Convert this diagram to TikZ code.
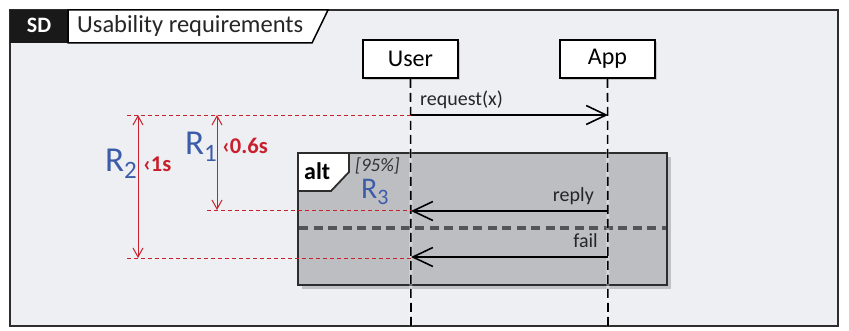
\documentclass[tikz,border=0pt]{standalone}
\usepackage{fontspec}
\setmainfont{Carlito}
\usetikzlibrary{arrows.meta,shadows}
\definecolor{bgc}{RGB}{237,239,243}
\definecolor{framec}{RGB}{45,45,45}
\definecolor{altc}{RGB}{189,190,194}
\definecolor{rblue}{RGB}{60,92,170}
\definecolor{rred}{RGB}{200,32,45}
\definecolor{sepc}{RGB}{85,85,88}
\tikzset{
  lbox/.style={draw=black, line width=1.6pt, fill=white, minimum width=95pt, minimum height=38pt,
    inner sep=0pt, font=\fontsize{24}{26}\selectfont,
    drop shadow={shadow xshift=2pt, shadow yshift=-2pt, opacity=0.35}},
  lifeline/.style={black, line width=1.6pt, dash pattern=on 9pt off 5pt},
  lifeglow/.style={white, opacity=0.35, line width=3pt},
  msg/.style={black, line width=1.6pt, -{Straight Barb[length=20pt,width=19pt,line width=1.6pt]}},
  msglabel/.style={font=\fontsize{20}{22}\selectfont, text=black!85, inner sep=0pt},
  reddash/.style={rred, line width=0.9pt, dash pattern=on 4pt off 3pt},
  dimarrow/.style={rred, line width=1pt, {Straight Barb[length=9pt,width=10pt,line width=1pt]}-{Straight Barb[length=9pt,width=10pt,line width=1pt]}},
  rlabel/.style={text=rblue, font=\fontsize{35}{36}\selectfont, inner sep=0pt, anchor=base west},
  tlabel/.style={text=rred, font=\bfseries\fontsize{22.5}{24}\selectfont, inner sep=0pt, anchor=base west},
}
\newcommand{\Rsub}[1]{R{\fontsize{25}{25}\selectfont\raisebox{-7pt}{#1}}}
\newcommand{\Rsubsmall}[1]{R{\fontsize{22}{22}\selectfont\raisebox{-6pt}{#1}}}
\begin{document}
\begin{tikzpicture}[x=1pt,y=-1pt]
\useasboundingbox (0,0) rectangle (849,331);
\fill[white] (0,0) rectangle (849,331);
% outer frame
\draw[framec, line width=2pt, fill=bgc] (10,10) rectangle (838,326);
\fill[black!90] (10,10) rectangle (68,43);
\draw[black, line width=1.5pt, fill=white] (68,10) -- (328,10) -- (312,43) -- (68,43) -- cycle;
\node[anchor=base, text=white, font=\bfseries\fontsize{22}{24}\selectfont, inner sep=0pt] (sdlbl) at (39,33) {SD};
\node[anchor=base west, font=\fontsize{24.5}{26}\selectfont, inner sep=0pt, text=black!85] (title) at (77,33) {Usability requirements};
% alt fragment
\draw[framec, line width=2pt, fill=altc, drop shadow={shadow xshift=4pt, shadow yshift=-4pt, opacity=0.4}] (298,153) rectangle (667,285);
\draw[framec, line width=1.8pt, fill=white] (298,153) -- (349,153) -- (349,172) -- (331,191) -- (298,191) -- cycle;
\node[anchor=base west, font=\bfseries\fontsize{24}{26}\selectfont, inner sep=0pt] (altlbl) at (304,180) {alt};
\node[anchor=base west, font=\itshape\fontsize{19}{21}\selectfont, inner sep=0pt, text=black!80] (guard) at (355,172) {[95\%]};
\draw[sepc, line width=3.8pt, dash pattern=on 9pt off 5.5pt] (299,228) -- (666,228);
% lifelines
\node[lbox] (user) at (410.5,59) {User};
\node[lbox] (app) at (607.5,59) {App};
\coordinate (userend) at (411,326);
\coordinate (append) at (608,326);
\draw[lifeglow] (user.south) -- (userend);
\draw[lifeglow] (app.south) -- (append);
\draw[lifeline] (user.south) -- (userend);
\draw[lifeline] (app.south) -- (append);
% messages
\coordinate (m1u) at (411,115);
\coordinate (m1a) at (608,115);
\coordinate (m2u) at (411,211);
\coordinate (m2a) at (608,211);
\coordinate (m3u) at (411,257);
\coordinate (m3a) at (608,257);
\draw[msg] (m1u) -- (m1a);
\draw[msg] (m2a) -- (m2u);
\draw[msg] (m3a) -- (m3u);
\node[msglabel, anchor=base west] (reqlbl) at (420,106) {request(x)};
\node[msglabel, anchor=base east] (replbl) at (594,202) {reply};
\node[msglabel, anchor=base east] (faillbl) at (598,248) {fail};
% red timing lines
\coordinate (t1) at (127,115);
\coordinate (t2) at (207,210);
\coordinate (t2u) at (411,210);
\coordinate (t3) at (127,258);
\coordinate (t3u) at (411,258);
\draw[reddash] (t1) -- (m1u);
\draw[reddash] (t2) -- (t2u);
\draw[reddash] (t3) -- (t3u);
\coordinate (d2a) at (138,115);
\coordinate (d2b) at (138,258);
\coordinate (d1a) at (217,115);
\coordinate (d1b) at (217,210);
\draw[dimarrow] (d2a) -- (d2b);
\draw[dimarrow] (d1a) -- (d1b);
\node[rlabel] (r2) at (105,172) {\Rsub{2}};
\node[tlabel] (r2t) at (143,172) {‹1s};
\node[rlabel] (r1) at (185,155) {\Rsub{1}};
\node[tlabel] (r1t) at (222,154) {‹0.6s};
\node[rlabel, font=\fontsize{30}{31}\selectfont] (r3) at (361,199) {\Rsubsmall{3}};
\end{tikzpicture}
\end{document}
